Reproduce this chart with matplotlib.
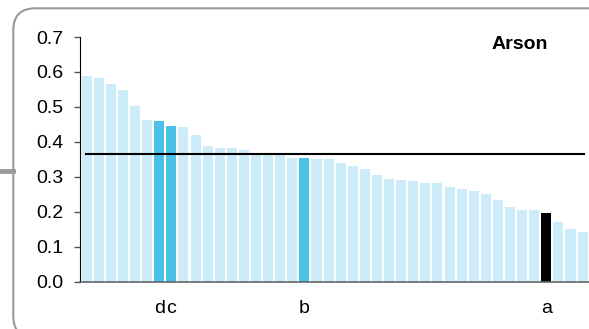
import matplotlib.pyplot as plt
from matplotlib.patches import FancyBboxPatch
from matplotlib.lines import Line2D
from matplotlib.transforms import IdentityTransform

plt.rcParams['font.family'] = ['Liberation Sans', 'DejaVu Sans']

values = [0.589, 0.584, 0.566, 0.548, 0.503, 0.462, 0.461, 0.445, 0.442, 0.420,
          0.387, 0.383, 0.383, 0.377, 0.364, 0.363, 0.362, 0.354, 0.353, 0.352,
          0.351, 0.340, 0.330, 0.321, 0.306, 0.295, 0.291, 0.289, 0.283, 0.282,
          0.270, 0.264, 0.259, 0.250, 0.233, 0.215, 0.205, 0.204, 0.196, 0.172,
          0.151, 0.142]
highlight = {6: "d", 7: "c", 18: "b", 38: "a"}
mean_value = 0.365
title = "Arson"

light = "#CDECF9"
blue = "#4BC1EA"
colors = []
for i in range(len(values)):
    if i == 38:
        colors.append("black")
    elif i in highlight:
        colors.append(blue)
    else:
        colors.append(light)

fig = plt.figure(figsize=(5.89, 3.29), dpi=100)
ax = fig.add_axes([80.3 / 589, 47.3 / 329, 508.7 / 589, 244.7 / 329])

x = list(range(len(values)))
ax.bar(x, values, width=0.83, color=colors)
ax.plot([-0.06, 41.13], [mean_value, mean_value], color="black", lw=1.5)

ax.set_xlim(-0.53, 41.53)
ax.set_ylim(0, 0.7)
ax.set_yticks([0.0, 0.1, 0.2, 0.3, 0.4, 0.5, 0.6, 0.7])
ax.set_yticklabels(["0.0", "0.1", "0.2", "0.3", "0.4", "0.5", "0.6", "0.7"])
ax.set_xticks(list(highlight.keys()))
ax.set_xticklabels(list(highlight.values()))
ax.tick_params(axis="y", length=4.3, width=1, color="#555555", pad=8, labelsize=14)
ax.tick_params(axis="x", length=0, pad=13, labelsize=14)

for s in ["top", "right"]:
    ax.spines[s].set_visible(False)
ax.spines["left"].set_color("black")
ax.spines["bottom"].set_color("#666666")
ax.spines["bottom"].set_linewidth(1.2)
ax.spines["bottom"].set_clip_on(False)

fig.text(520 / 589, 1 - 44.5 / 329, title, ha="center", va="center",
         fontsize=14, fontweight="bold")

# rounded frame and connector stub
frame = FancyBboxPatch((13.3, -9), 620, 329 - 8.3 + 9,
                       boxstyle="round,pad=0,rounding_size=22",
                       transform=IdentityTransform(), fill=False,
                       ec="#9a9a9a", lw=1.5)
fig.add_artist(frame)
fig.add_artist(Line2D([0, 13.3], [158.3, 158.3], transform=IdentityTransform(),
                      color="#9a9a9a", lw=3.5))

fig.savefig("out.png", dpi=100)
